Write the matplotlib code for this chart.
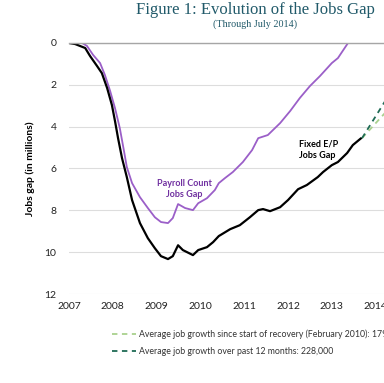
import matplotlib
matplotlib.use('Agg')
import matplotlib.pyplot as plt
from matplotlib.lines import Line2D

# Fixed E/P jobs gap (millions)
ep_year = [2007.0, 2007.14, 2007.37, 2007.48, 2007.64, 2007.75, 2007.87, 2007.98,
           2008.05, 2008.12, 2008.21, 2008.32, 2008.44, 2008.62, 2008.80, 2008.96,
           2009.10, 2009.26, 2009.37, 2009.49, 2009.60, 2009.83, 2009.95, 2010.15,
           2010.29, 2010.42, 2010.68, 2010.90, 2011.13, 2011.32, 2011.43, 2011.59,
           2011.82, 2012.00, 2012.23, 2012.43, 2012.68, 2012.80, 2013.00, 2013.14,
           2013.35, 2013.48, 2013.67]
ep_gap = [0.0, 0.05, 0.24, 0.62, 1.10, 1.44, 2.15, 2.97,
          3.73, 4.55, 5.50, 6.41, 7.51, 8.61, 9.33, 9.81,
          10.19, 10.33, 10.19, 9.67, 9.90, 10.14, 9.90, 9.76,
          9.52, 9.23, 8.90, 8.71, 8.33, 7.99, 7.94, 8.04,
          7.85, 7.51, 6.99, 6.79, 6.41, 6.17, 5.84, 5.69,
          5.26, 4.88, 4.55]

# Payroll count jobs gap
pc_year = [2007.0, 2007.30, 2007.41, 2007.55, 2007.71, 2007.82, 2007.94, 2008.05,
           2008.16, 2008.25, 2008.32, 2008.44, 2008.62, 2008.80, 2008.96, 2009.10,
           2009.26, 2009.37, 2009.49, 2009.65, 2009.83, 2009.95, 2010.15, 2010.33,
           2010.42, 2010.56, 2010.74, 2010.97, 2011.18, 2011.32, 2011.54, 2011.82,
           2012.05, 2012.27, 2012.50, 2012.73, 2013.00, 2013.14, 2013.37]
pc_gap = [0.0, 0.0, 0.14, 0.57, 0.96, 1.53, 2.30, 3.11,
          4.07, 5.10, 5.93, 6.70, 7.37, 7.89, 8.33, 8.56,
          8.61, 8.37, 7.70, 7.89, 7.99, 7.66, 7.42, 7.03,
          6.70, 6.46, 6.17, 5.69, 5.12, 4.55, 4.40, 3.83,
          3.25, 2.63, 2.06, 1.58, 0.96, 0.72, 0.0]

# projections from the end of the E/P gap
proj_year = [2013.69, 2014.5]
proj_recovery = [4.55, 2.69]   # 179,000 a month
proj_12m = [4.55, 1.83]        # 228,000 a month

purple = '#9B5FC8'
light_green = '#A9D18E'
dark_green = '#1F6B55'
sans = 'Lato'

fig = plt.figure(figsize=(3.84, 3.83), dpi=100)
ax = fig.add_axes([69 / 384, 1 - 294 / 383, 1 - 69 / 384, (294 - 43) / 383])

ax.plot(pc_year, pc_gap, color=purple, lw=1.3, solid_capstyle='round')
ax.plot(ep_year, ep_gap, color='black', lw=1.6, solid_capstyle='round')
ax.plot(proj_year, proj_recovery, color=light_green, lw=1.3, dashes=(3, 2.5))
ax.plot(proj_year, proj_12m, color=dark_green, lw=1.3, dashes=(3, 2.5))

ax.set_xlim(2007, 2007 + (384 - 69) / 43.8)
ax.set_ylim(12, 0)
ax.set_yticks(range(0, 13, 2))
ax.set_xticks(range(2007, 2015))
ax.set_xticklabels([str(y) for y in range(2007, 2015)])
ax.tick_params(length=0, labelsize=7.5, colors='#222222')
ax.tick_params(axis='x', pad=6)
ax.tick_params(axis='y', pad=9)
for lbl in ax.get_xticklabels() + ax.get_yticklabels():
    lbl.set_family(sans)

for s in ['left', 'right', 'bottom']:
    ax.spines[s].set_visible(False)
ax.spines['top'].set_color('#A6A6A6')
ax.spines['top'].set_linewidth(1.0)
ax.grid(axis='y', color='#DDDDDD', lw=0.8)
ax.set_axisbelow(True)

ax.set_ylabel('Jobs gap (in millions)', fontsize=7.5, fontweight='bold',
              family=sans, labelpad=7)

ax.text(2009.63, 7.0, 'Payroll Count\nJobs Gap', color='#7030A0', fontsize=6.5,
        fontweight='bold', family=sans, ha='center', va='center', linespacing=1.3)
ax.text(2012.25, 5.1, 'Fixed E/P\nJobs Gap', color='black', fontsize=6.5,
        fontweight='bold', family=sans, ha='left', va='center', linespacing=1.3)

fig.text(255 / 384, 1 - 10 / 383, 'Figure 1: Evolution of the Jobs Gap',
         family='Liberation Serif', fontsize=12, color='#215A6A',
         ha='center', va='center')
fig.text(255 / 384, 1 - 24 / 383, '(Through July 2014)',
         family='Liberation Serif', fontsize=7.3, color='#215A6A',
         ha='center', va='center')

# legend drawn by hand under the axis
handles = [Line2D([0], [0], color=light_green, lw=1.3, dashes=(3, 2.5)),
           Line2D([0], [0], color=dark_green, lw=1.3, dashes=(3, 2.5))]
labels = ['Average job growth since start of recovery (February 2010): 179,000',
          'Average job growth over past 12 months: 228,000']
leg = fig.legend(handles, labels, loc='upper left',
                 bbox_to_anchor=(108 / 384, 1 - 326 / 383), frameon=False,
                 prop={'family': sans, 'size': 6.3}, handlelength=2.8,
                 handletextpad=0.3, labelspacing=0.9, borderaxespad=0)
for t in leg.get_texts():
    t.set_color('#333333')

fig.savefig('out.png', dpi=100)
